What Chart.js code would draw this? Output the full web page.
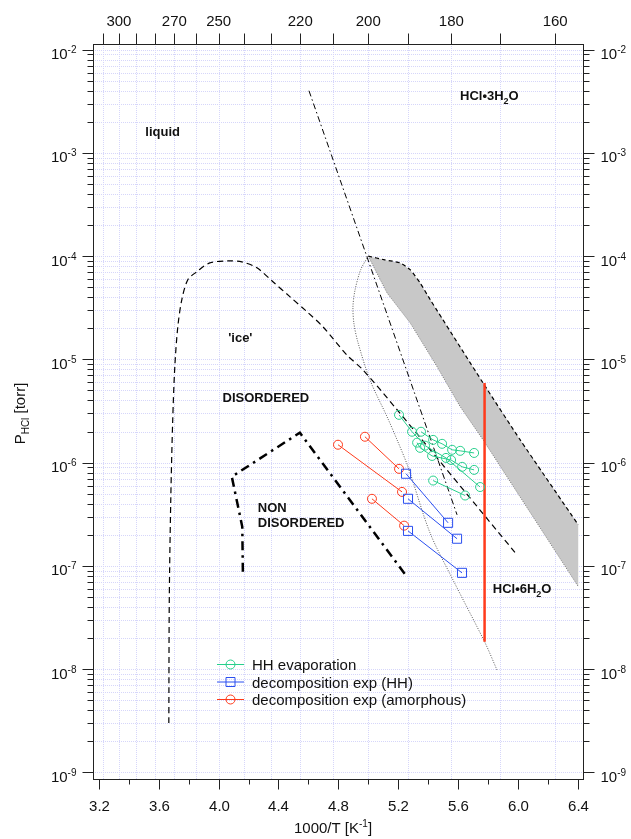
<!DOCTYPE html>
<html>
<head>
<meta charset="utf-8">
<script src="https://cdn.jsdelivr.net/npm/chart.js@4.4.1/dist/chart.umd.min.js"></script>
<style>
  html, body { margin: 0; padding: 0; background: #fff; }
</style>
</head>
<body>
<canvas id="chartCanvas" width="631" height="839"></canvas>
<script>
// --- Data: x = 1000/T [1/K], y = P_HCl [torr] ---

// long dashed boundary ('ice' / disordered region)
const iceX = [3.667, 3.670, 3.680, 3.693, 3.707, 3.727, 3.754, 3.794, 3.854, 3.941, 4.075, 4.155, 4.256, 4.363, 4.476, 4.590, 4.697, 4.858, 4.965, 5.193, 5.983];
const iceY = [3.0e-9, 4.7e-8, 4.4e-7, 2.6e-6, 8.5e-6, 2.07e-5, 3.8e-5, 5.9e-5, 7.06e-5, 8.6e-5, 9.0e-5, 8.8e-5, 7.7e-5, 5.65e-5, 4.05e-5, 2.9e-5, 2.07e-5, 1.1e-5, 7.9e-6, 3.25e-6, 1.34e-7];

// thin dash-dot line (steep)
const steepX = [4.604, 5.594];
const steepY = [4.0e-3, 3.12e-7];

// thin dotted curve
const dotX = [5.0, 4.950, 4.912, 4.898, 4.905, 4.932, 5.012, 5.126, 5.193, 5.266, 5.413, 5.567, 5.781, 5.861];
const dotY = [1.0e-4, 7.4e-5, 4.7e-5, 3.23e-5, 2.2e-5, 1.45e-5, 6.3e-6, 2.78e-6, 1.66e-6, 9.1e-7, 2.09e-7, 7.3e-8, 1.8e-8, 9.8e-9];

// grey band, upper (dashed) and lower (dotted) edges
const bandTopX = [5.0, 5.111, 5.213, 5.280, 5.347, 5.414, 5.768, 6.016, 6.404];
const bandTopY = [1.0e-4, 9.2e-5, 8.6e-5, 7.4e-5, 5.5e-5, 3.8e-5, 5.9e-6, 1.66e-6, 2.5e-7];
const bandLowX = [5.0, 5.126, 5.280, 5.460, 5.614, 5.768, 6.404];
const bandLowY = [1.0e-4, 4.4e-5, 2.26e-5, 8.5e-6, 3.5e-6, 1.66e-6, 6.3e-8];

// red vertical line (HCl*6H2O)
const hexX = [5.778, 5.778];
const hexY = [5.9e-6, 1.84e-8];

// thick dash-dot boundary (non disordered)
const nonX = [4.162, 4.158, 4.088, 4.543, 5.260];
const nonY = [8.75e-8, 2.39e-7, 7.3e-7, 1.95e-6, 7.8e-8];

// HH evaporation runs
const evapX1 = [5.206, 5.293, 5.380, 5.520, 5.748];
const evapY1 = [2.9e-6, 1.99e-6, 1.46e-6, 1.11e-6, 5.8e-7];
const evapX2 = [5.353, 5.434, 5.494, 5.561, 5.615, 5.708];
const evapY2 = [1.99e-6, 1.66e-6, 1.52e-6, 1.33e-6, 1.30e-6, 1.24e-6];
const evapX3 = [5.327, 5.347, 5.427, 5.554, 5.628, 5.708];
const evapY3 = [1.56e-6, 1.39e-6, 1.16e-6, 1.06e-6, 9.1e-7, 8.5e-7];
const evapX4 = [5.434, 5.648];
const evapY4 = [6.7e-7, 4.8e-7];

// decomposition exp (HH)
const hhX1 = [5.253, 5.534], hhY1 = [7.8e-7, 2.61e-7];
const hhX2 = [5.266, 5.594], hhY2 = [4.46e-7, 1.83e-7];
const hhX3 = [5.266, 5.627], hhY3 = [2.18e-7, 8.55e-8];

// decomposition exp (amorphous)
const amX1 = [4.978, 5.206], amY1 = [1.78e-6, 8.7e-7];
const amX2 = [4.798, 5.226], amY2 = [1.49e-6, 5.2e-7];
const amX3 = [5.025, 5.240], amY3 = [4.46e-7, 2.45e-7];

// axis ticks
const xMajor = [3.2, 3.6, 4.0, 4.4, 4.8, 5.2, 5.6, 6.0, 6.4];
const xMinor = [3.4, 3.8, 4.2, 4.6, 5.0, 5.4, 5.8, 6.2];
const tempTicks = [310, 300, 290, 280, 270, 260, 250, 240, 230, 220, 210, 200, 190, 180, 170, 160];
const tempLabels = [300, 270, 250, 220, 200, 180, 160];
const decades = [-9, -8, -7, -6, -5, -4, -3, -2];

// text in the plot: [x, y, parts, align]
const notes = [
    [3.626, 1.6e-3, [['liquid', 0]], 'center'],
    [5.614, 3.6e-3, [['HCl\u20223H', 0], ['2', 1], ['O', 0]], 'left'],
    [4.145, 1.62e-5, [["'ice'", 0]], 'center'],
    [4.316, 4.25e-6, [['DISORDERED', 0]], 'center'],
    [4.262, 3.7e-7, [['NON', 0]], 'left'],
    [4.262, 2.6e-7, [['DISORDERED', 0]], 'left'],
    [5.833, 6.0e-8, [['HCl\u20226H', 0], ['2', 1], ['O', 0]], 'left']
];

const legendItems = [
    ['HH evaporation', '#27cf8c', 'circle'],
    ['decomposition exp (HH)', '#2a4ff0', 'rect'],
    ['decomposition exp (amorphous)', '#ff3a1a', 'circle']
];

// --- helpers ---
const FONT = '"Liberation Sans", Arial, Helvetica, sans-serif';
const GREEN = '#27cf8c', BLUE = '#2a4ff0', RED = '#ff3a1a';

function pts(xs, ys) {
    return xs.map((x, i) => ({ x, y: ys[i] }));
}

function curve(xs, ys, extra) {
    return Object.assign({
        data: pts(xs, ys), showLine: true, pointRadius: 0, borderWidth: 1,
        borderColor: '#000', tension: 0, fill: false
    }, extra);
}

function series(xs, ys, color, style) {
    return {
        data: pts(xs, ys), showLine: true, borderColor: color, borderWidth: 1,
        pointStyle: style, pointRadius: style === 'rect' ? 6.4 : 4.5,
        pointBorderColor: color, pointBackgroundColor: 'rgba(0,0,0,0)', pointBorderWidth: 1
    };
}

function drawRich(ctx, parts, x, y, align, size, bold) {
    const f = s => (bold ? 'bold ' : '') + s + 'px ' + FONT;
    const small = Math.round(size * 0.68);
    let total = 0;
    for (const [t, k] of parts) { ctx.font = f(k ? small : size); total += ctx.measureText(t).width; }
    let cx = align === 'right' ? x - total : align === 'center' ? x - total / 2 : x;
    ctx.textAlign = 'left';
    ctx.textBaseline = 'alphabetic';
    for (const [t, k] of parts) {
        ctx.font = f(k ? small : size);
        const dy = k === 1 ? size * 0.28 : k === 2 ? -size * 0.4 : 0;
        ctx.fillText(t, cx, y + dy);
        cx += ctx.measureText(t).width;
    }
}

function line(ctx, x1, y1, x2, y2) {
    ctx.beginPath(); ctx.moveTo(x1, y1); ctx.lineTo(x2, y2); ctx.stroke();
}

// --- axes, grid, labels, legend ---
const igorAxes = {
    id: 'igorAxes',
    beforeDatasetsDraw(chart) {
        const { ctx, chartArea: a, scales: { x, y } } = chart;
        ctx.save();
        ctx.strokeStyle = '#d6d6fa';
        ctx.lineWidth = 1;
        ctx.setLineDash([1, 1]);
        for (const d of decades) {
            for (let k = 1; k <= 9; k++) {
                const py = Math.round(y.getPixelForValue(k * Math.pow(10, d))) + 0.5;
                if (py > a.top && py < a.bottom) line(ctx, a.left, py, a.right, py);
            }
        }
        for (const t of tempTicks) {
            const px = Math.round(x.getPixelForValue(1000 / t)) + 0.5;
            line(ctx, px, a.top, px, a.bottom);
        }
        ctx.restore();
    },
    afterDatasetsDraw(chart) {
        const { ctx, chartArea: a, scales: { x, y } } = chart;
        ctx.save();
        ctx.strokeStyle = '#222';
        ctx.fillStyle = '#111';
        ctx.lineWidth = 1;
        const L = Math.round(a.left) + 0.5, R = Math.round(a.right) + 0.5;
        const T = Math.round(a.top) + 0.5, B = Math.round(a.bottom) + 0.5;
        ctx.strokeRect(L, T, R - L, B - T);

        // left / right log ticks
        for (const d of decades) {
            for (let k = 1; k <= 9; k++) {
                const py = Math.round(y.getPixelForValue(k * Math.pow(10, d))) + 0.5;
                if (py < a.top || py > a.bottom) continue;
                const len = k === 1 ? 11 : 6;
                line(ctx, L - len, py, L, py);
                line(ctx, R, py, R + len, py);
            }
            const py = y.getPixelForValue(Math.pow(10, d));
            drawRich(ctx, [['10', 0], [String(d), 2]], L - 17, py + 9.5, 'right', 15, false);
            drawRich(ctx, [['10', 0], [String(d), 2]], R + 17, py + 9.5, 'left', 15, false);
        }

        // bottom ticks
        for (const v of xMajor) {
            const px = Math.round(x.getPixelForValue(v)) + 0.5;
            line(ctx, px, B, px, B + 10);
            drawRich(ctx, [[v.toFixed(1), 0]], px, B + 31, 'center', 15, false);
        }
        for (const v of xMinor) {
            const px = Math.round(x.getPixelForValue(v)) + 0.5;
            line(ctx, px, B, px, B + 5);
        }

        // top temperature axis
        for (const t of tempTicks) {
            const px = Math.round(x.getPixelForValue(1000 / t)) + 0.5;
            line(ctx, px, T - 11, px, T);
        }
        for (const t of tempLabels) {
            drawRich(ctx, [[String(t), 0]], x.getPixelForValue(1000 / t), 26, 'center', 15, false);
        }

        // axis titles
        drawRich(ctx, [['1000/T [K', 0], ['-1', 2], [']', 0]], (a.left + a.right) / 2 - 5, 833, 'center', 15, false);
        ctx.save();
        ctx.translate(25, (a.top + a.bottom) / 2 + 2);
        ctx.rotate(-Math.PI / 2);
        drawRich(ctx, [['P', 0], ['HCl', 1], [' [torr]', 0]], 0, 0, 'center', 15, false);
        ctx.restore();

        // region labels
        for (const [vx, vy, parts, align] of notes) {
            drawRich(ctx, parts, x.getPixelForValue(vx), y.getPixelForValue(vy) + 4.5, align, 13, true);
        }

        // legend
        legendItems.forEach(([label, color, style], i) => {
            const ly = 664.5 + i * 17.5;
            ctx.strokeStyle = color;
            ctx.lineWidth = 1;
            line(ctx, 217, ly, 244, ly);
            ctx.beginPath();
            if (style === 'rect') ctx.rect(226, ly - 4.5, 9, 9);
            else ctx.arc(230.5, ly, 4.5, 0, Math.PI * 2);
            ctx.stroke();
            ctx.fillStyle = '#111';
            drawRich(ctx, [[label, 0]], 252, ly + 5.5, 'left', 15, false);
        });
        ctx.restore();
    }
};

const datasets = [
    series(evapX1, evapY1, GREEN, 'circle'),
    series(evapX2, evapY2, GREEN, 'circle'),
    series(evapX3, evapY3, GREEN, 'circle'),
    series(evapX4, evapY4, GREEN, 'circle'),
    series(hhX1, hhY1, BLUE, 'rect'),
    series(hhX2, hhY2, BLUE, 'rect'),
    series(hhX3, hhY3, BLUE, 'rect'),
    series(amX1, amY1, RED, 'circle'),
    series(amX2, amY2, RED, 'circle'),
    series(amX3, amY3, RED, 'circle'),
    curve(hexX, hexY, { borderColor: '#ff3b1c', borderWidth: 2.5 }),
    curve(nonX, nonY, { borderWidth: 2.5, borderDash: [9, 5, 2.5, 5] }),
    curve(steepX, steepY, { borderDash: [6, 3, 1.5, 3] }),
    curve(iceX, iceY, { borderWidth: 1.2, borderDash: [6, 4], tension: 0.3 }),
    curve(dotX, dotY, { borderColor: '#555', borderDash: [1, 1.5], tension: 0.3 }),
    curve(bandTopX, bandTopY, { borderWidth: 1.2, borderDash: [4, 3], tension: 0.2 }),
    curve(bandLowX, bandLowY, { borderColor: '#777', borderDash: [1, 1.5] }),
    // grey band as closed shape
    curve(bandTopX.concat(bandLowX.slice().reverse()), bandTopY.concat(bandLowY.slice().reverse()),
        { borderWidth: 0, borderColor: 'rgba(0,0,0,0)', backgroundColor: '#c8c8c8', fill: 'shape' })
];

new Chart(document.getElementById('chartCanvas'), {
    type: 'scatter',
    data: { datasets },
    options: {
        responsive: false,
        animation: false,
        layout: { padding: { left: 93, top: 44, right: 48, bottom: 60 } },
        plugins: { legend: { display: false }, tooltip: { enabled: false } },
        scales: {
            x: { type: 'linear', min: 3.16, max: 6.436, display: false },
            y: { type: 'logarithmic', min: Math.pow(10, -9.065), max: Math.pow(10, -1.945), display: false }
        }
    },
    plugins: [igorAxes]
});
</script>
</body>
</html>
